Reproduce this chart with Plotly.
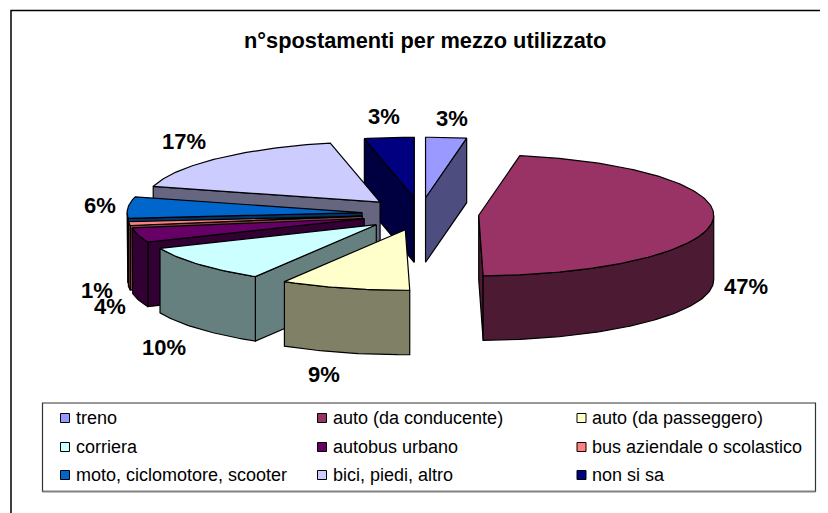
import math
import plotly.graph_objects as go

categories = ["treno", "auto (da conducente)", "auto (da passeggero)", "corriera", "autobus urbano",
              "bus aziendale o scolastico", "moto, ciclomotore, scooter", "bici, piedi, altro", "non si sa"]
shares = [2.8, 46.9, 8.9, 10.0, 3.9, 1.0, 5.7, 17.4, 3.4]
top_colors = ["#9999FF", "#993366", "#FFFFCC", "#CCFFFF", "#660066", "#FF8080", "#0066CC", "#CCCCFF", "#000080"]
side_colors = ["#4D4D80", "#4D1A33", "#808066", "#668080", "#330033", "#804040", "#003366", "#666680", "#000040"]
title = "n°spostamenti per mezzo utilizzato"

W, H = 828, 513
PAGE_MARGIN = 8
CX, CY, RX, RY, DEPTH = 420.4, 214.0, 235.0, 60.5, 64.5
EX, EY = 58.5, 16.3
LABEL_POS = [(452, 118), (746, 286), (324, 374), (164, 347), (110, 306), (97, 290), (100, 205), (184, 141), (384, 116)]
LEG_X = [65, 322, 581.5]
LEG_Y = [418, 447, 475]
DRAW_ORDER = [8, 7, 0, 1, 6, 5, 4, 3, 2]

total = sum(shares)
bounds = [0.0]
for v in shares:
    bounds.append(bounds[-1] + v / total * 360.0)


def pt(ax, ay, deg, dz=0.0):
    r = math.radians(deg)
    return ax + RX * math.sin(r), ay - RY * math.cos(r) + dz


def arc(ax, ay, a, b, dz=0.0):
    n = max(2, int(abs(b - a)) + 2)
    return [pt(ax, ay, a + (b - a) * i / (n - 1), dz) for i in range(n)]


fig = go.Figure()


def poly(points, color):
    fig.add_trace(go.Scatter(
        x=[p[0] for p in points] + [points[0][0]],
        y=[p[1] for p in points] + [points[0][1]],
        mode="lines", fill="toself", fillcolor=color,
        line=dict(color="#000000", width=1.2), hoverinfo="skip", showlegend=False))


for i in DRAW_ORDER:
    a, b = bounds[i], bounds[i + 1]
    mid = math.radians((a + b) / 2)
    ax, ay = CX + EX * math.sin(mid), CY - EY * math.cos(mid)
    apex, apex_low = (ax, ay), (ax, ay + DEPTH)
    side = side_colors[i]
    if math.sin(math.radians(a)) < 0:
        poly([apex, pt(ax, ay, a), pt(ax, ay, a, DEPTH), apex_low], side)
    if math.sin(math.radians(b)) > 0:
        poly([apex, pt(ax, ay, b), pt(ax, ay, b, DEPTH), apex_low], side)
    wa, wb = max(a, 90.0), min(b, 270.0)
    if wb > wa:
        poly(arc(ax, ay, wa, wb) + arc(ax, ay, wb, wa, DEPTH), side)
    poly([apex] + arc(ax, ay, a, b), top_colors[i])

annotations = [dict(x=425, y=40, text="<b>%s</b>" % title, showarrow=False,
                    font=dict(family="Liberation Sans", size=21.8, color="#000000"))]
for v, (lx, ly) in zip(shares, LABEL_POS):
    annotations.append(dict(x=lx, y=ly, text="<b>%d%%</b>" % round(v), showarrow=False,
                            font=dict(family="Liberation Sans", size=22, color="#000000")))

for i, name in enumerate(categories):
    col, row = i % 3, i // 3
    fig.add_trace(go.Scatter(x=[LEG_X[col]], y=[LEG_Y[row]], mode="markers", name=name, showlegend=False,
                             marker=dict(symbol="square", size=9, color=top_colors[i],
                                         line=dict(color="#000000", width=1))))
    annotations.append(dict(x=LEG_X[col] + 8.7, y=LEG_Y[row], text=name, showarrow=False, xanchor="left",
                            font=dict(family="Liberation Sans", size=18, color="#000000")))

shapes = [
    dict(type="rect", x0=11, y0=10.5, x1=900, y1=600, line=dict(color="#000000", width=1.5), layer="below"),
    dict(type="rect", x0=42.5, y0=403, x1=815.5, y1=491.5, line=dict(color="#333333", width=1.2), layer="below"),
    dict(type="line", x0=42.5, y0=491.5, x1=815.5, y1=491.5, line=dict(color="#808080", width=2), layer="below"),
]

fig.update_layout(
    width=W - PAGE_MARGIN, height=H - PAGE_MARGIN, margin=dict(l=0, r=0, t=0, b=0), showlegend=False,
    paper_bgcolor="#FFFFFF", plot_bgcolor="#FFFFFF",
    xaxis=dict(range=[PAGE_MARGIN, W], visible=False, fixedrange=True),
    yaxis=dict(range=[H, PAGE_MARGIN], visible=False, fixedrange=True),
    annotations=annotations, shapes=shapes)
fig.write_html("out.html")
